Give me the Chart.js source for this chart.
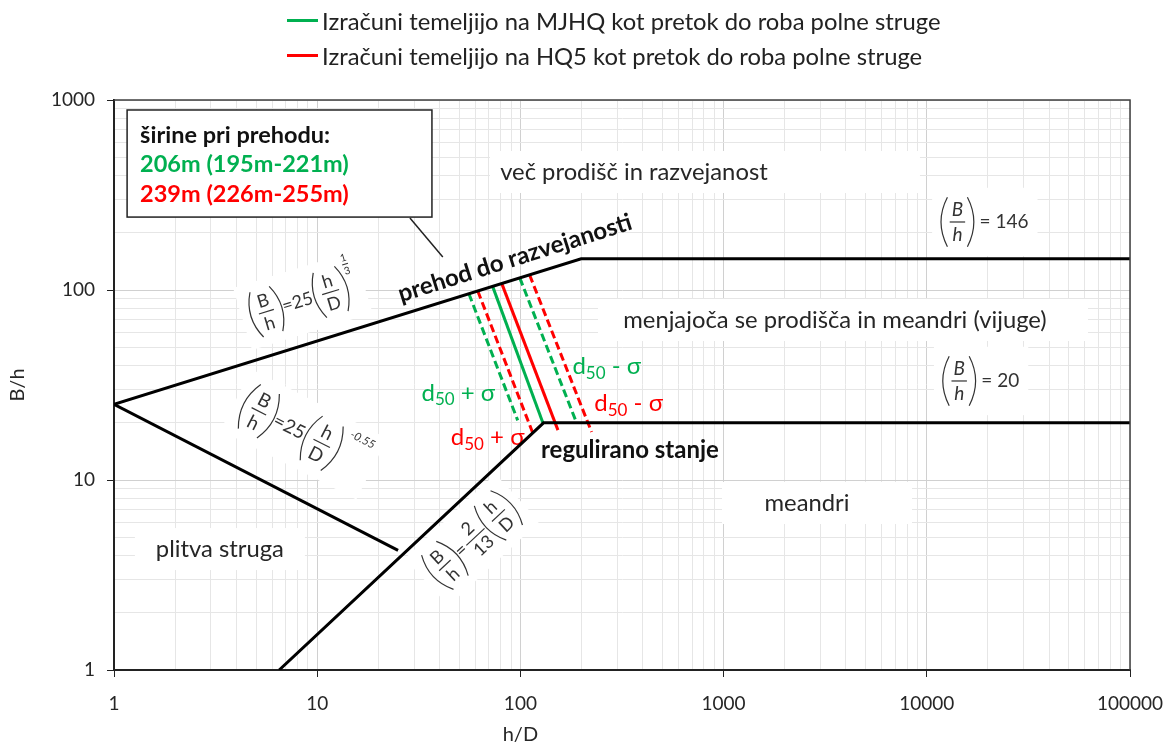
<!DOCTYPE html>
<html>
<head>
<meta charset="utf-8">
<title>B/h - h/D</title>
<script src="https://cdn.jsdelivr.net/npm/chart.js@4.4.0/dist/chart.umd.min.js"></script>
<style>
    body { margin: 0; background: #fff; }
    #wrap { position: relative; width: 1166px; height: 749px; }
    #legend { position: absolute; left: 287px; top: 3px; font-family: Lato, "Open Sans", sans-serif; font-size: 23.8px; color: #222; }
    #legend .row { display: flex; align-items: center; height: 35px; }
    #legend .swatch { width: 31px; height: 3px; margin-right: 4px; }
    canvas { position: absolute; left: 0; top: 0; }
</style>
</head>
<body>
<div id="wrap">
    <canvas id="chart" width="1166" height="749"></canvas>
    <div id="legend"></div>
</div>
<script>
// boundary lines (x = h/D, y = B/h)
const upperX = [1, 199, 100000];
const upperY = [25, 146, 146];
const shallowX = [1, 25];
const shallowY = [25, 4.26];
const meanderX = [6.5, 130, 100000];
const meanderY = [1, 20, 20];

// transition lines, MJHQ (green) and HQ5 (red)
const mjhqX = [73, 129];
const mjhqY = [104.5, 20];
const mjhqPlusX = [55.8, 97];
const mjhqPlusY = [95.5, 20.6];
const mjhqMinusX = [99.3, 189];
const mjhqMinusY = [115.8, 20];
const hq5X = [81, 153];
const hq5Y = [108, 18.3];
const hq5PlusX = [61.7, 115];
const hq5PlusY = [98.8, 17.7];
const hq5MinusX = [111, 224];
const hq5MinusY = [120, 17.9];

// callout pointer
const pointerX = [28.6, 41.5];
const pointerY = [239, 149];

const xTicks = [1, 10, 100, 1000, 10000, 100000];
const yTicks = [1, 10, 100, 1000];
const legendLabels = [
    'Izračuni temeljijo na MJHQ kot pretok do roba polne struge',
    'Izračuni temeljijo na HQ5 kot pretok do roba polne struge'
];
const boxLines = ['širine pri prehodu:', '206m (195m-221m)', '239m (226m-255m)'];
const regionLabels = ['več prodišč in razvejanost', 'menjajoča se prodišča in meandri (vijuge)', 'meandri', 'plitva struga'];

const GREEN = '#00b050';
const RED = '#ff0000';
const FONT = 'Lato, "Open Sans", sans-serif';

// legend (html)
const legend = document.getElementById('legend');
[GREEN, RED].forEach((c, i) => {
    const row = document.createElement('div');
    row.className = 'row';
    const sw = document.createElement('span');
    sw.className = 'swatch';
    sw.style.background = c;
    const tx = document.createElement('span');
    tx.textContent = legendLabels[i];
    row.appendChild(sw);
    row.appendChild(tx);
    legend.appendChild(row);
});

function pts(xs, ys) {
    return xs.map((x, i) => ({ x: x, y: ys[i] }));
}

function series(xs, ys, color, width, dash) {
    return {
        data: pts(xs, ys),
        borderColor: color,
        borderWidth: width,
        borderDash: dash || [],
        showLine: true,
        pointRadius: 0,
        fill: false
    };
}

function isDecade(v) {
    const l = Math.log10(v);
    return Math.abs(l - Math.round(l)) < 1e-6;
}

function gridValues(min, max) {
    const out = [];
    for (let d = min; d < max; d *= 10) {
        for (let k = 1; k < 10; k++) out.push(k * d);
    }
    out.push(max);
    return out;
}

// formula drawing helpers
function paren(ctx, x0, pw, h, right) {
    ctx.beginPath();
    if (!right) {
        ctx.moveTo(x0 + pw * 0.85, -h);
        ctx.quadraticCurveTo(x0 - pw * 0.65, 0, x0 + pw * 0.85, h);
    } else {
        ctx.moveTo(x0 + pw * 0.15, -h);
        ctx.quadraticCurveTo(x0 + pw * 1.65, 0, x0 + pw * 0.15, h);
    }
    ctx.stroke();
}

function runFormula(ctx, parts, fs, draw) {
    let x = 0;
    const f = (s, it) => (it ? 'italic ' : '') + s + 'px ' + FONT;
    ctx.textBaseline = 'middle';
    parts.forEach(p => {
        if (p.frac) {
            const s = p.small ? fs * 0.58 : fs;
            ctx.font = f(s, p.italic);
            const w = Math.max(ctx.measureText(p.frac[0]).width, ctx.measureText(p.frac[1]).width) + (p.small ? 2 : 6);
            const pw = p.paren ? fs * 0.45 : 0;
            const dy = p.small ? -fs * 1.25 : 0;
            if (draw) {
                ctx.textAlign = 'center';
                if (p.paren) paren(ctx, x, pw, fs * 1.3, false);
                ctx.fillText(p.frac[0], x + pw + w / 2, dy - s * 0.62);
                ctx.fillText(p.frac[1], x + pw + w / 2, dy + s * 0.68);
                ctx.fillRect(x + pw + 1, dy - 0.6, w - 2, 1.2);
                if (p.paren) paren(ctx, x + pw + w, pw, fs * 1.3, true);
            }
            x += w + 2 * pw;
        } else if (p.text) {
            ctx.font = f(fs);
            const w = ctx.measureText(p.text).width;
            if (draw) { ctx.textAlign = 'left'; ctx.fillText(p.text, x, 0); }
            x += w + 1;
        } else if (p.sup) {
            ctx.font = f(fs * 0.6, true);
            const w = ctx.measureText(p.sup).width;
            if (draw) { ctx.textAlign = 'left'; ctx.fillText(p.sup, x + 3, -fs * 1.15); }
            x += w + 3;
        }
    });
    return x;
}

// annotation layout (data coordinates for anchors)
const formulas = [
    { parts: [{ frac: ['B', 'h'], paren: true }, { text: '=25' }, { frac: ['h', 'D'], paren: true }, { frac: ['1', '3'], small: true }],
      x: 8.5, y: 88, rot: -17, fs: 18 },
    { parts: [{ frac: ['B', 'h'], paren: true }, { text: '=25' }, { frac: ['h', 'D'], paren: true }, { sup: '-0.55' }],
      x: 8.6, y: 17.4, rot: 27, fs: 19 },
    { parts: [{ frac: ['B', 'h'], paren: true }, { text: '=' }, { frac: ['2', '13'] }, { frac: ['h', 'D'], paren: true }],
      x: 57.8, y: 4.83, rot: -43, fs: 18 },
    { parts: [{ frac: ['B', 'h'], paren: true, italic: true }, { text: ' = 146' }],
      x: 19300, y: 228, rot: 0, fs: 19 },
    { parts: [{ frac: ['B', 'h'], paren: true, italic: true }, { text: ' = 20' }],
      x: 18500, y: 33.2, rot: 0, fs: 19 }
];
const regionPos = [
    { x: 362, y: 418, w: 430, dx: 71 },
    { x: 3533, y: 69.5, w: 490, dx: 8 },
    { x: 2573, y: 7.57, w: 190, dx: 10 },
    { x: 3.32, y: 4.33, w: 170, dx: 0 }
];
const sigmaLabels = [
    { sign: '+', color: GREEN, x: 49.5, y: 28.7 },
    { sign: '+', color: RED, x: 69, y: 16.8 },
    { sign: '-', color: GREEN, x: 266, y: 39.8 },
    { sign: '-', color: RED, x: 341, y: 25.4 }
];
const boxCorner = { x0: 1.16, y0: 886, x1: 36.7, y1: 242 };

const annotations = {
    id: 'annotations',
    beforeDatasetsDraw(chart) {
        const { ctx, scales: { x, y } } = chart;
        const px = v => x.getPixelForValue(v);
        const py = v => y.getPixelForValue(v);
        ctx.save();

        // region labels with white boxes
        ctx.font = '23.8px ' + FONT;
        ctx.textBaseline = 'middle';
        ctx.textAlign = 'center';
        regionLabels.forEach((t, i) => {
            const p = regionPos[i];
            const cx = px(p.x), cy = py(p.y);
            ctx.fillStyle = '#fff';
            ctx.fillRect(cx + p.dx - p.w / 2, cy - 21, p.w, 42);
            ctx.fillStyle = '#262626';
            ctx.fillText(t, cx, cy);
        });

        // formulas
        formulas.forEach(fm => {
            const w = runFormula(ctx, fm.parts, fm.fs, false);
            ctx.save();
            ctx.translate(px(fm.x), py(fm.y));
            ctx.rotate(fm.rot * Math.PI / 180);
            ctx.translate(-w / 2, 0);
            ctx.fillStyle = '#fff';
            ctx.fillRect(-8, -fm.fs * 1.8, w + 16, fm.fs * 3.6);
            ctx.fillStyle = '#333';
            ctx.strokeStyle = '#333';
            ctx.lineWidth = 1.2;
            runFormula(ctx, fm.parts, fm.fs, true);
            ctx.restore();
        });

        // bold labels
        ctx.font = 'bold 24px ' + FONT;
        ctx.fillStyle = '#111';
        ctx.textAlign = 'center';
        ctx.fillText('regulirano stanje', px(346), py(14.4));
        ctx.save();
        ctx.translate(px(94), py(147));
        ctx.rotate(-17.5 * Math.PI / 180);
        ctx.fillText('prehod do razvejanosti', 0, 0);
        ctx.restore();

        // d50 ± sigma labels
        sigmaLabels.forEach(s => {
            ctx.font = '24px ' + FONT;
            const wd = ctx.measureText('d').width;
            const tail = ' ' + s.sign + ' σ';
            const wt = ctx.measureText(tail).width;
            ctx.font = '17px ' + FONT;
            const ws = ctx.measureText('50').width;
            let cx = px(s.x) - (wd + ws + wt) / 2;
            const cy = py(s.y);
            ctx.fillStyle = s.color;
            ctx.textAlign = 'left';
            ctx.font = '24px ' + FONT;
            ctx.fillText('d', cx, cy);
            ctx.font = '17px ' + FONT;
            ctx.fillText('50', cx + wd, cy + 7);
            ctx.font = '24px ' + FONT;
            ctx.fillText(tail, cx + wd + ws, cy);
        });

        // callout box
        const bx0 = px(boxCorner.x0), by0 = py(boxCorner.y0);
        const bx1 = px(boxCorner.x1), by1 = py(boxCorner.y1);
        ctx.fillStyle = '#fff';
        ctx.fillRect(bx0, by0, bx1 - bx0, by1 - by0);
        ctx.strokeStyle = '#222';
        ctx.lineWidth = 1.5;
        ctx.strokeRect(bx0, by0, bx1 - bx0, by1 - by0);
        ctx.font = 'bold 23.5px ' + FONT;
        ctx.textAlign = 'left';
        [ '#111', GREEN, RED ].forEach((c, i) => {
            ctx.fillStyle = c;
            ctx.fillText(boxLines[i], bx0 + 13, by0 + 25 + i * 29.5);
        });

        ctx.restore();
    },
    afterDraw(chart) {
        const { ctx, chartArea: a, scales: { x } } = chart;
        ctx.save();
        // top and right frame
        ctx.strokeStyle = '#404040';
        ctx.lineWidth = 1.5;
        ctx.beginPath();
        ctx.moveTo(a.left, a.top);
        ctx.lineTo(a.right, a.top);
        ctx.lineTo(a.right, a.bottom);
        ctx.stroke();
        // axis titles
        ctx.fillStyle = '#262626';
        ctx.font = '20px ' + FONT;
        ctx.textAlign = 'center';
        ctx.textBaseline = 'middle';
        ctx.fillText('h/D', x.getPixelForValue(100), 735);
        ctx.translate(18, (a.top + a.bottom) / 2);
        ctx.rotate(-Math.PI / 2);
        ctx.fillText('B/h', 0, 0);
        ctx.restore();
    }
};

function axisOptions(min, max, labels, fit) {
    return {
        type: 'logarithmic',
        min: min,
        max: max,
        afterBuildTicks: s => { s.ticks = gridValues(min, max).map(v => ({ value: v })); },
        afterFit: fit,
        ticks: {
            autoSkip: false,
            maxRotation: 0,
            color: '#262626',
            font: { family: FONT, size: 19 },
            callback: v => labels.some(l => Math.abs(l - v) < 1e-6) ? String(v) : ''
        },
        grid: {
            color: c => isDecade(c.tick.value) ? '#d0d0d0' : '#e6e6e6',
            tickColor: c => isDecade(c.tick.value) ? '#222' : 'rgba(0,0,0,0)',
            tickLength: 7,
            lineWidth: 1
        },
        border: { color: '#222', width: 2 }
    };
}

const xAxis = axisOptions(1, 100000, xTicks, s => {
    s.height = 79;
    s.paddingLeft = 0;
    s.paddingRight = 0;
});
xAxis.ticks.padding = 15;
const yAxis = axisOptions(1, 1000, yTicks, s => {
    s.width = 114;
    s.paddingTop = 0;
    s.paddingBottom = 0;
});
yAxis.ticks.padding = 12;

new Chart(document.getElementById('chart').getContext('2d'), {
    type: 'scatter',
    data: {
        datasets: [
            series(upperX, upperY, '#000', 3),
            series(shallowX, shallowY, '#000', 3),
            series(meanderX, meanderY, '#000', 3),
            series(pointerX, pointerY, '#222', 1.5),
            series(mjhqPlusX, mjhqPlusY, GREEN, 3, [8, 4]),
            series(hq5PlusX, hq5PlusY, RED, 3, [8, 4]),
            series(mjhqX, mjhqY, GREEN, 3),
            series(hq5X, hq5Y, RED, 3),
            series(mjhqMinusX, mjhqMinusY, GREEN, 3, [8, 4]),
            series(hq5MinusX, hq5MinusY, RED, 3, [8, 4])
        ]
    },
    options: {
        responsive: false,
        animation: false,
        layout: { padding: { top: 100, right: 36, left: 0, bottom: 0 } },
        plugins: { legend: { display: false }, tooltip: { enabled: false } },
        scales: { x: xAxis, y: yAxis }
    },
    plugins: [annotations]
});
</script>
</body>
</html>
